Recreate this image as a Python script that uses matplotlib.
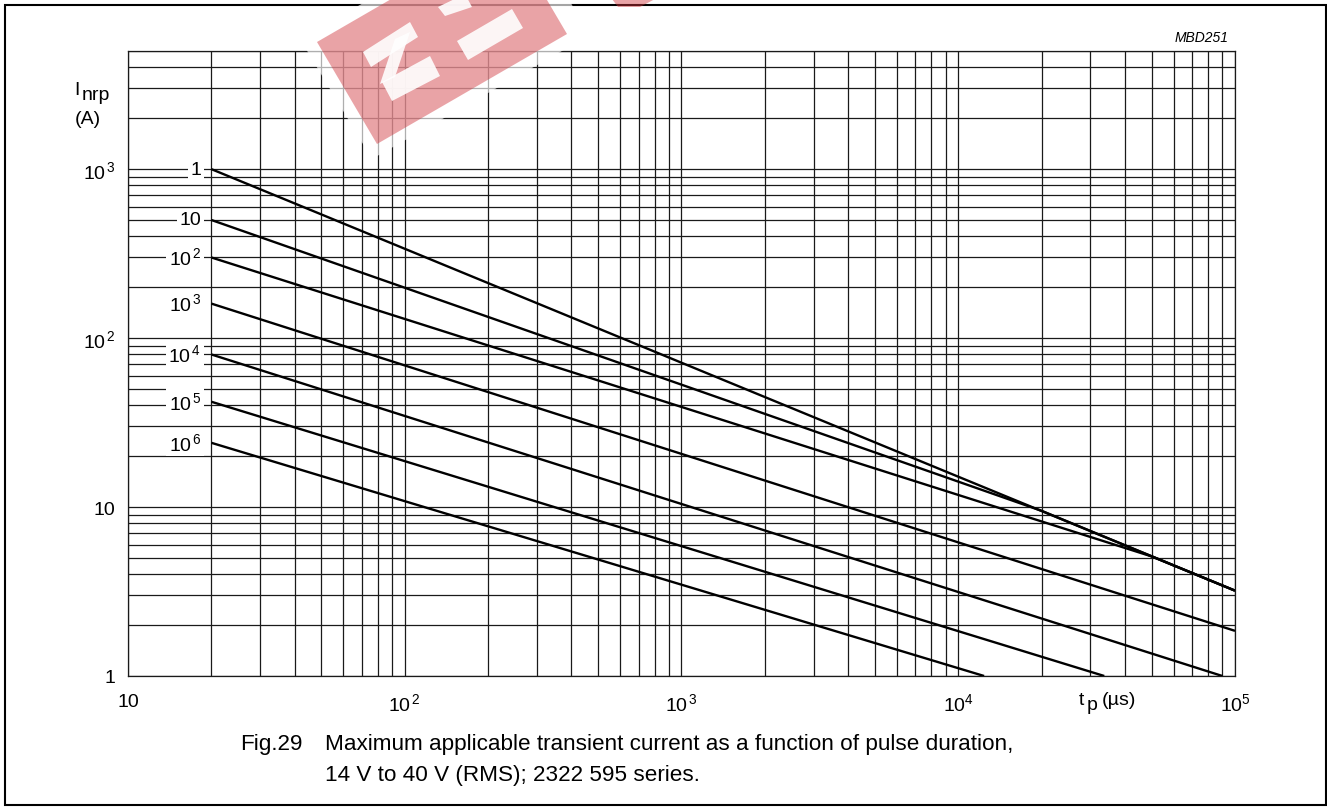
import numpy as np
import matplotlib
matplotlib.use("Agg")
import matplotlib.pyplot as plt
from matplotlib.patches import Rectangle, Polygon
from matplotlib.ticker import LogLocator, NullFormatter

plt.rcParams["font.family"] = ["Liberation Sans", "DejaVu Sans"]
plt.rcParams["mathtext.fontset"] = "custom"
plt.rcParams["mathtext.rm"] = "Liberation Sans"
plt.rcParams["mathtext.it"] = "Liberation Sans:italic"

# curves: pulse duration (us) vs max current (A), one per number of pulses
curve_names = ["1", "10", r"$\mathrm{10}^{\,2}$", r"$\mathrm{10}^{\,3}$",
               r"$\mathrm{10}^{\,4}$", r"$\mathrm{10}^{\,5}$", r"$\mathrm{10}^{\,6}$"]
curve_t = [
    [20, 1e5],
    [20, 2e4, 1e5],
    [20, 5e4, 1e5],
    [20, 1e5],
    [20, 9e4],
    [20, 3.37e4],
    [20, 1.24e4],
]
curve_i = [
    [1000, 3.2],
    [500, 9.5, 3.2],
    [300, 5.1, 3.2],
    [160, 1.85],
    [80, 1.0],
    [42, 1.0],
    [24, 1.0],
]

x_ticks = [10, 1e2, 1e3, 1e4, 1e5]
x_ticklabels = ["10", r"$\mathrm{10}^{\,2}$", r"$\mathrm{10}^{\,3}$", r"$\mathrm{10}^{4}$", r"$\mathrm{10}^{5}$"]
y_ticks = [1, 10, 1e2, 1e3]
y_ticklabels = ["1", "10", r"$\mathrm{10}^{\,2}$", r"$\mathrm{10}^{\,3}$"]

W, H = 1327, 812
fig = plt.figure(figsize=(W / 100, H / 100), dpi=100)


def fx(px):
    return px / W


def fy(py):
    return 1 - py / H


ax = fig.add_axes([fx(128), fy(677), fx(1235) - fx(128), fy(52) - fy(677)])
ax.set_xscale("log")
ax.set_yscale("log")
ax.set_xlim(10, 1e5)
ax.set_ylim(1, 5000)

ax.xaxis.set_minor_locator(LogLocator(base=10, subs=np.arange(2, 10)))
ax.yaxis.set_minor_locator(LogLocator(base=10, subs=np.arange(2, 10)))
ax.xaxis.set_minor_formatter(NullFormatter())
ax.yaxis.set_minor_formatter(NullFormatter())
ax.grid(True, which="both", color="#1a1a1a", lw=0.9)
ax.set_axisbelow(True)
for sp in ax.spines.values():
    sp.set_linewidth(0.9)
    sp.set_color("#1a1a1a")

ax.set_xticks(x_ticks)
ax.set_xticklabels(x_ticklabels, fontsize=14)
ax.set_yticks(y_ticks)
ax.set_yticklabels(y_ticklabels, fontsize=14)
ax.tick_params(which="both", length=0)
ax.tick_params(axis="x", pad=12)
ax.tick_params(axis="y", pad=9)

for name, t, i in zip(curve_names, curve_t, curve_i):
    ax.plot(t, i, color="black", lw=1.7, solid_capstyle="butt", zorder=3)
    ax.text(18.4, i[0], name, ha="right", va="center", fontsize=14, zorder=4,
            bbox=dict(boxstyle="square,pad=0.12", fc="white", ec="none"))

# axis titles
fig.text(fx(74), fy(95), "I", fontsize=14, ha="left", va="baseline")
fig.text(fx(82), fy(99.5), "nrp", fontsize=14, ha="left", va="baseline")
fig.text(fx(75), fy(124), "(A)", fontsize=14, ha="left", va="baseline")
fig.text(fx(1079), fy(705), "t", fontsize=14, ha="left", va="baseline")
fig.text(fx(1087), fy(710), "p", fontsize=14, ha="left", va="baseline")
fig.text(fx(1102), fy(705), "(µs)", fontsize=14, ha="left", va="baseline")
fig.text(fx(1229), fy(38), "MBD251", fontsize=10, style="italic", ha="right", va="center")

# caption
fig.text(fx(240), fy(745), "Fig.29", fontsize=16.2, ha="left", va="center")
fig.text(fx(325), fy(745), "Maximum applicable transient current as a function of pulse duration,",
         fontsize=16.2, ha="left", va="center")
fig.text(fx(325), fy(776), "14 V to 40 V (RMS); 2322 595 series.",
         fontsize=16.2, ha="left", va="center")

# outer frame
fig.patches.append(Rectangle((fx(5), fy(806)), fx(1326) - fx(5), fy(6) - fy(806),
                             transform=fig.transFigure, fill=False, lw=1.5, ec="black"))

# watermark
def poly(pts, **kw):
    fig.patches.append(Polygon([(fx(a), fy(b)) for a, b in pts], closed=True,
                               transform=fig.transFigure, zorder=10, **kw))

poly([(300, 40), (372, 160), (590, 36), (518, -84)], fc="white", ec="none", alpha=0.65)
poly([(317, 43), (377, 145), (567, 35), (507, -67)], fc=(0.81, 0.2, 0.23), ec="none", alpha=0.45)
poly([(612, 0), (655, 0), (640, 8), (618, 8)], fc=(0.81, 0.2, 0.23), ec="none", alpha=0.45)
poly([(457, 42), (512, 10), (523, 29), (468, 61)], fc="white", ec="none", alpha=0.9)
poly([(363, 53), (410, 23), (418, 38), (371, 68)], fc="white", ec="none", alpha=0.9)
poly([(395, 40), (410, 33), (395, 78), (380, 85)], fc="white", ec="none", alpha=0.9)
poly([(382, 83), (430, 57), (440, 77), (392, 102)], fc="white", ec="none", alpha=0.9)
poly([(438, 8), (465, -5), (472, 8), (445, 17)], fc="white", ec="none", alpha=0.9)

fig.savefig("out.png", dpi=100)
